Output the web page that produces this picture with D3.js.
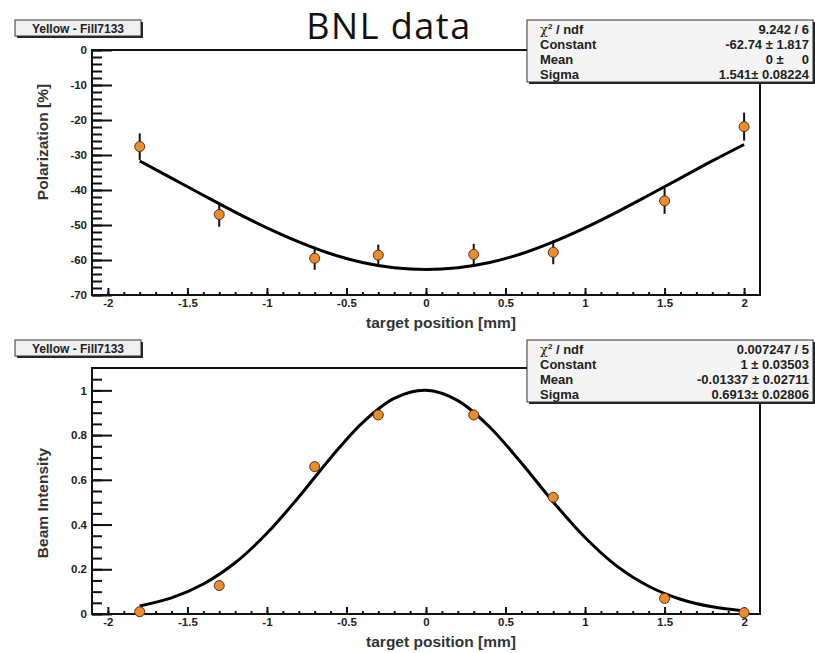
<!DOCTYPE html>
<html>
<head>
<meta charset="utf-8">
<script src="https://cdn.jsdelivr.net/npm/d3@7.9.0/dist/d3.min.js"></script>
<style>
  body { margin: 0; background: #fff; }
  svg text { font-family: "Liberation Sans", Arial, sans-serif; }
</style>
</head>
<body>
<svg id="chart" width="815" height="653"></svg>
<script>
// measured points, same x positions in both panels
const xPos = [-1.8, -1.3, -0.7, -0.3, 0.3, 0.8, 1.5, 2.0];
const polValues = [-27.6, -47.0, -59.5, -58.6, -58.4, -57.8, -43.1, -21.9];
const polErrors = [3.8, 3.5, 3.3, 3.0, 3.0, 3.4, 3.7, 4.0];
const intensityValues = [0.010, 0.127, 0.659, 0.890, 0.890, 0.522, 0.070, 0.006];

// fitted curves
const fitX = [-1.8, -1.6, -1.4, -1.2, -1.0, -0.8, -0.6, -0.4, -0.2, 0, 0.2, 0.4, 0.6, 0.8, 1.0, 1.2, 1.4, 1.6, 1.8, 2.0];
const polFit = [-31.7, -36.6, -41.5, -46.3, -50.8, -54.8, -58.2, -60.7, -62.2, -62.7, -62.2, -60.7, -58.2, -54.8, -50.8, -46.3, -41.5, -36.6, -31.7, -27.0];
const intensityFit = [0.036, 0.072, 0.134, 0.229, 0.361, 0.523, 0.698, 0.855, 0.964, 1.000, 0.954, 0.836, 0.675, 0.501, 0.342, 0.214, 0.124, 0.066, 0.032, 0.014];

// tick labels
const xTickVals = [-2, -1.5, -1, -0.5, 0, 0.5, 1, 1.5, 2];
const polTickVals = [0, -10, -20, -30, -40, -50, -60, -70];
const intensityTickVals = [0, 0.2, 0.4, 0.6, 0.8, 1];

// fit statistics boxes
const statLabels = ["ndf", "Constant", "Mean", "Sigma"];
const polStats = ["9.242 / 6", "-62.74 \u00b1 1.817", "0 \u00b1     0", "1.541\u00b1 0.08224"];
const intensityStats = ["0.007247 / 5", "1 \u00b1 0.03503", "-0.01337 \u00b1 0.02711", "0.6913\u00b1 0.02806"];

const histTitle = "Yellow - Fill7133";

const svg = d3.select('#chart');

svg.append('text')
  .attr('x', 389).attr('y', 38.5)
  .attr('text-anchor', 'middle')
  .style('font-family', '"Open Sans", sans-serif')
  .style('font-size', '36px')
  .style('letter-spacing', '1.5px')
  .attr('fill', '#111')
  .text('BNL data');

function drawPanel(cfg) {
  const x = d3.scaleLinear().domain([-2.1, 2.1]).range([92, 760]);
  const y = d3.scaleLinear().domain(cfg.yDomain).range([cfg.bottom, cfg.top]);
  const g = svg.append('g');

  // minor ticks
  g.append('g')
    .attr('transform', `translate(92,0)`)
    .call(d3.axisLeft(y).tickValues(cfg.yMinor).tickSize(-10).tickFormat(''))
    .call(a => a.select('.domain').remove());
  g.append('g')
    .attr('transform', `translate(0,${cfg.bottom})`)
    .call(d3.axisBottom(x).tickValues(d3.range(-20, 21).map(d => d / 10)).tickSize(-3).tickFormat(''))
    .call(a => a.select('.domain').remove());

  // major ticks with labels
  const yAxis = g.append('g')
    .attr('transform', `translate(92,0)`)
    .call(d3.axisLeft(y).tickValues(cfg.yTicks).tickSize(-20).tickPadding(5).tickFormat(d => String(d)))
    .call(a => a.select('.domain').remove());
  const xAxis = g.append('g')
    .attr('transform', `translate(0,${cfg.bottom})`)
    .call(d3.axisBottom(x).tickValues(xTickVals).tickSize(-7).tickPadding(4).tickFormat(d => String(d)))
    .call(a => a.select('.domain').remove());

  g.selectAll('.tick line').attr('stroke', '#111').attr('stroke-width', 2);
  [yAxis, xAxis].forEach(a => a.selectAll('text')
    .attr('fill', '#222')
    .style('font-size', '11.5px')
    .style('font-weight', 'bold')
    .style('font-family', '"Liberation Sans", Arial, sans-serif'));

  // frame
  g.append('rect')
    .attr('x', 92).attr('y', cfg.top)
    .attr('width', 668).attr('height', cfg.bottom - cfg.top)
    .attr('fill', 'none').attr('stroke', '#111').attr('stroke-width', 2);

  // fit curve
  g.append('path')
    .datum(fitX.map((v, i) => [v, cfg.fit[i]]))
    .attr('fill', 'none')
    .attr('stroke', '#000')
    .attr('stroke-width', 3)
    .attr('d', d3.line().x(d => x(d[0])).y(d => y(d[1])).curve(d3.curveCatmullRom.alpha(0.5)));

  // error bars
  if (cfg.errors) {
    g.selectAll('line.err')
      .data(xPos)
      .join('line')
      .attr('class', 'err')
      .attr('x1', d => x(d)).attr('x2', d => x(d))
      .attr('y1', (d, i) => y(cfg.values[i] - cfg.errors[i]))
      .attr('y2', (d, i) => y(cfg.values[i] + cfg.errors[i]))
      .attr('stroke', '#111').attr('stroke-width', 2);
  }

  // points
  g.selectAll('circle')
    .data(xPos)
    .join('circle')
    .attr('cx', d => x(d))
    .attr('cy', (d, i) => y(cfg.values[i]))
    .attr('r', 5)
    .attr('fill', '#ee8c2b')
    .attr('stroke', '#4a3418')
    .attr('stroke-width', 1);

  // axis titles
  g.append('text')
    .attr('x', 441).attr('y', cfg.bottom + 33)
    .attr('text-anchor', 'middle')
    .style('font-size', '15.5px').style('font-weight', 'bold')
    .attr('fill', '#333')
    .text('target position [mm]');
  g.append('text')
    .attr('transform', `translate(48,${cfg.yTitleCenter}) rotate(-90)`)
    .attr('text-anchor', 'middle')
    .style('font-size', '15.5px').style('font-weight', 'bold')
    .attr('fill', '#333')
    .text(cfg.yTitle);

  // title box
  const tb = g.append('g').attr('transform', `translate(15,${cfg.titleY})`);
  tb.append('rect').attr('x', 2).attr('y', 2).attr('width', 126).attr('height', 16).attr('fill', '#222');
  tb.append('rect').attr('width', 126).attr('height', 16)
    .attr('fill', '#f0f0f0').attr('stroke', '#333').attr('stroke-width', 1);
  tb.append('text')
    .attr('x', 63).attr('y', 12.5)
    .attr('text-anchor', 'middle')
    .style('font-size', '12px').style('font-weight', 'bold')
    .attr('fill', '#222')
    .text(histTitle);

  // stats box
  const sb = g.append('g').attr('transform', `translate(527,${cfg.statsY})`);
  sb.append('rect').attr('x', 2).attr('y', 2).attr('width', 286).attr('height', 62).attr('fill', '#222');
  sb.append('rect').attr('width', 286).attr('height', 62)
    .attr('fill', '#f4f4f4').attr('stroke', '#333').attr('stroke-width', 1);
  statLabels.forEach((lab, i) => {
    const ty = 14 + i * 15;
    const t = sb.append('text')
      .attr('x', 13).attr('y', ty)
      .style('font-size', '13px').style('font-weight', 'bold')
      .attr('fill', '#222');
    if (i === 0) {
      t.append('tspan').style('font-weight', 'normal').style('font-family', '"DejaVu Serif", serif').text('\u03c7');
      t.append('tspan').attr('dy', -5).style('font-size', '8px').text('2');
      t.append('tspan').attr('dy', 5).text(' / ' + lab);
    } else {
      t.text(lab);
    }
    sb.append('text')
      .attr('x', 282).attr('y', ty)
      .attr('text-anchor', 'end')
      .style('font-size', '13px').style('font-weight', 'bold')
      .style('white-space', 'pre')
      .attr('fill', '#222')
      .text(cfg.stats[i]);
  });
}

drawPanel({
  yDomain: [-70, 0], top: 50, bottom: 295,
  yTicks: polTickVals, yMinor: d3.range(-70, 1, 2),
  values: polValues, errors: polErrors, fit: polFit,
  yTitle: 'Polarization [%]', yTitleCenter: 142,
  titleY: 20, statsY: 20, stats: polStats
});

drawPanel({
  yDomain: [0, 1.1], top: 368, bottom: 614,
  yTicks: intensityTickVals, yMinor: d3.range(0, 22).map(d => d * 0.05),
  values: intensityValues, errors: null, fit: intensityFit,
  yTitle: 'Beam Intensity', yTitleCenter: 503,
  titleY: 340, statsY: 340, stats: intensityStats
});
</script>
</body>
</html>
